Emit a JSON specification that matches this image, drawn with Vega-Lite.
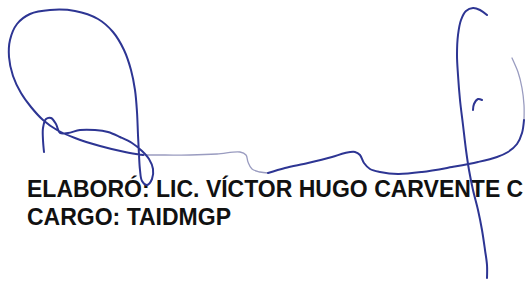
{
  "$schema": "https://vega.github.io/schema/vega-lite/v6.json",
  "width": 529,
  "height": 283,
  "padding": 0,
  "autosize": "none",
  "background": "white",
  "config": {"view": {"stroke": null}},
  "datasets": {
    "sig": [
      {"s": "A", "o": 1, "x": 44, "y": 152}, {"s": "A", "o": 2, "x": 43, "y": 140}, {"s": "A", "o": 3, "x": 43, "y": 128},
      {"s": "A", "o": 4, "x": 46, "y": 119}, {"s": "A", "o": 5, "x": 51, "y": 118}, {"s": "A", "o": 6, "x": 56, "y": 124},
      {"s": "A", "o": 7, "x": 60, "y": 133}, {"s": "A", "o": 8, "x": 68, "y": 133}, {"s": "A", "o": 9, "x": 80, "y": 130},
      {"s": "A", "o": 10, "x": 95, "y": 130}, {"s": "A", "o": 11, "x": 108, "y": 132}, {"s": "A", "o": 12, "x": 120, "y": 137},
      {"s": "A", "o": 13, "x": 132, "y": 143}, {"s": "A", "o": 14, "x": 142, "y": 151}, {"s": "A", "o": 15, "x": 149, "y": 159},
      {"s": "A", "o": 16, "x": 153, "y": 169}, {"s": "A", "o": 17, "x": 152, "y": 179}, {"s": "A", "o": 18, "x": 147, "y": 185},
      {"s": "A", "o": 19, "x": 142, "y": 181}, {"s": "A", "o": 20, "x": 140, "y": 170}, {"s": "A", "o": 21, "x": 139, "y": 155},
      {"s": "A", "o": 22, "x": 138, "y": 135}, {"s": "A", "o": 23, "x": 137, "y": 112}, {"s": "A", "o": 24, "x": 135, "y": 90},
      {"s": "A", "o": 25, "x": 131, "y": 70}, {"s": "A", "o": 26, "x": 124, "y": 50}, {"s": "A", "o": 27, "x": 113, "y": 32},
      {"s": "A", "o": 28, "x": 98, "y": 19}, {"s": "A", "o": 29, "x": 75, "y": 11}, {"s": "A", "o": 30, "x": 50, "y": 10},
      {"s": "A", "o": 31, "x": 30, "y": 14}, {"s": "A", "o": 32, "x": 17, "y": 24}, {"s": "A", "o": 33, "x": 10, "y": 40},
      {"s": "A", "o": 34, "x": 9, "y": 57}, {"s": "A", "o": 35, "x": 13, "y": 76}, {"s": "A", "o": 36, "x": 21, "y": 93},
      {"s": "A", "o": 37, "x": 31, "y": 107}, {"s": "A", "o": 38, "x": 43, "y": 120}, {"s": "A", "o": 39, "x": 57, "y": 130},
      {"s": "A", "o": 40, "x": 75, "y": 138}, {"s": "A", "o": 41, "x": 100, "y": 146}, {"s": "A", "o": 42, "x": 125, "y": 152},
      {"s": "A", "o": 43, "x": 143, "y": 155},
      {"s": "B", "o": 1, "x": 143, "y": 155}, {"s": "B", "o": 2, "x": 165, "y": 155}, {"s": "B", "o": 3, "x": 190, "y": 155},
      {"s": "B", "o": 4, "x": 217, "y": 154}, {"s": "B", "o": 5, "x": 240, "y": 152}, {"s": "B", "o": 6, "x": 246, "y": 155},
      {"s": "B", "o": 7, "x": 248, "y": 162}, {"s": "B", "o": 8, "x": 252, "y": 169}, {"s": "B", "o": 9, "x": 260, "y": 172},
      {"s": "B", "o": 10, "x": 268, "y": 173},
      {"s": "C", "o": 1, "x": 268, "y": 173}, {"s": "C", "o": 2, "x": 285, "y": 168}, {"s": "C", "o": 3, "x": 308, "y": 163},
      {"s": "C", "o": 4, "x": 332, "y": 157}, {"s": "C", "o": 5, "x": 345, "y": 153}, {"s": "C", "o": 6, "x": 355, "y": 152},
      {"s": "C", "o": 7, "x": 360, "y": 155}, {"s": "C", "o": 8, "x": 364, "y": 163}, {"s": "C", "o": 9, "x": 370, "y": 169},
      {"s": "C", "o": 10, "x": 380, "y": 172}, {"s": "C", "o": 11, "x": 398, "y": 174}, {"s": "C", "o": 12, "x": 422, "y": 172},
      {"s": "C", "o": 13, "x": 452, "y": 167}, {"s": "C", "o": 14, "x": 478, "y": 162}, {"s": "C", "o": 15, "x": 497, "y": 157},
      {"s": "C", "o": 16, "x": 508, "y": 152}, {"s": "C", "o": 17, "x": 517, "y": 144}, {"s": "C", "o": 18, "x": 522, "y": 133},
      {"s": "C", "o": 19, "x": 524, "y": 120},
      {"s": "D", "o": 1, "x": 524, "y": 120}, {"s": "D", "o": 2, "x": 524, "y": 105}, {"s": "D", "o": 3, "x": 522, "y": 88},
      {"s": "D", "o": 4, "x": 518, "y": 72}, {"s": "D", "o": 5, "x": 512, "y": 58},
      {"s": "E", "o": 1, "x": 487, "y": 15}, {"s": "E", "o": 2, "x": 480, "y": 10}, {"s": "E", "o": 3, "x": 473, "y": 8},
      {"s": "E", "o": 4, "x": 466, "y": 11}, {"s": "E", "o": 5, "x": 461, "y": 20}, {"s": "E", "o": 6, "x": 458, "y": 35},
      {"s": "E", "o": 7, "x": 457, "y": 55}, {"s": "E", "o": 8, "x": 458, "y": 75}, {"s": "E", "o": 9, "x": 460, "y": 100},
      {"s": "E", "o": 10, "x": 463, "y": 125}, {"s": "E", "o": 11, "x": 466, "y": 150}, {"s": "E", "o": 12, "x": 469, "y": 170},
      {"s": "E", "o": 13, "x": 473, "y": 190}, {"s": "E", "o": 14, "x": 478, "y": 210}, {"s": "E", "o": 15, "x": 482, "y": 230},
      {"s": "E", "o": 16, "x": 485, "y": 250}, {"s": "E", "o": 17, "x": 487, "y": 265}, {"s": "E", "o": 18, "x": 487, "y": 278},
      {"s": "F", "o": 1, "x": 473, "y": 110}, {"s": "F", "o": 2, "x": 474, "y": 104}, {"s": "F", "o": 3, "x": 478, "y": 99},
      {"s": "F", "o": 4, "x": 482, "y": 100}
    ],
    "txt": [
      {"t": "ELABORÓ: LIC. VÍCTOR HUGO CARVENTE C", "x": 27, "y": 197},
      {"t": "CARGO: TAIDMGP", "x": 27, "y": 225}
    ]
  },
  "encoding": {
    "x": {"field": "x", "type": "quantitative", "scale": {"domain": [0, 529], "nice": false, "zero": false}, "axis": null},
    "y": {"field": "y", "type": "quantitative", "scale": {"domain": [0, 283], "nice": false, "zero": false, "reverse": true}, "axis": null}
  },
  "layer": [
    {
      "data": {"name": "txt"},
      "mark": {"type": "text", "align": "left", "baseline": "alphabetic", "font": "Liberation Sans", "fontWeight": "bold", "fontSize": 23, "color": "#111111"},
      "encoding": {"text": {"field": "t", "type": "nominal"}}
    },
    {
      "data": {"name": "sig"},
      "transform": [{"filter": "datum.s === 'B' || datum.s === 'D'"}],
      "mark": {"type": "line", "interpolate": "catmull-rom", "strokeWidth": 1.3, "color": "#9a9cc0", "strokeCap": "round"},
      "encoding": {"detail": {"field": "s", "type": "nominal"}, "order": {"field": "o", "type": "quantitative"}}
    },
    {
      "data": {"name": "sig"},
      "transform": [{"filter": "datum.s !== 'B' && datum.s !== 'D'"}],
      "mark": {"type": "line", "interpolate": "catmull-rom", "strokeWidth": 2, "color": "#2d3593", "strokeCap": "round"},
      "encoding": {"detail": {"field": "s", "type": "nominal"}, "order": {"field": "o", "type": "quantitative"}}
    }
  ]
}
